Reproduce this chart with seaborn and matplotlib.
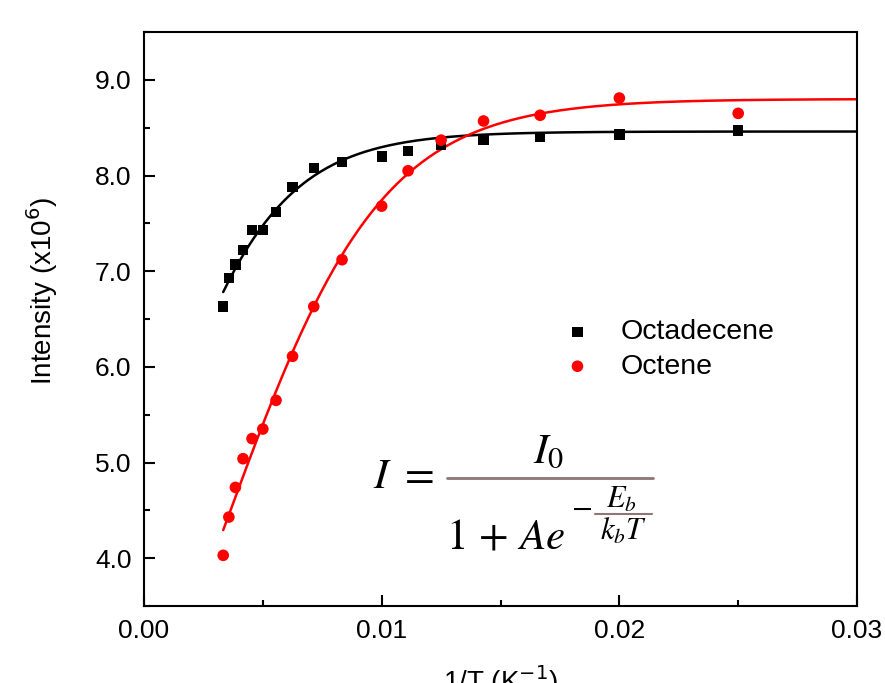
import numpy as np
import pandas as pd
import seaborn as sns
import matplotlib.pyplot as plt
from matplotlib.ticker import MultipleLocator, FixedLocator

# 1/T for T = 300 ... 40 K
inv_T = [1/300, 1/280, 1/260, 1/240, 1/220, 1/200, 1/180, 1/160, 1/140,
         1/120, 1/100, 1/90, 1/80, 1/70, 1/60, 1/50, 1/40]
octadecene = [6.63, 6.93, 7.07, 7.22, 7.43, 7.43, 7.62, 7.88, 8.08,
              8.14, 8.20, 8.26, 8.32, 8.37, 8.40, 8.43, 8.47]
octene = [4.03, 4.43, 4.74, 5.04, 5.25, 5.35, 5.65, 6.11, 6.63,
          7.12, 7.68, 8.05, 8.37, 8.57, 8.63, 8.81, 8.65]

# fit parameters, I = I0 / (1 + A exp(-c x)), x = 1/T
fit_octadecene = dict(I0=8.46, A=0.878, c=380.0)
fit_octene = dict(I0=8.80, A=2.91, c=306.0)
fit_range = (1/300, 0.03)

xticks = [0.00, 0.01, 0.02, 0.03]
xtick_labels = ['0.00', '0.01', '0.02', '0.03']
yticks = [4.0, 5.0, 6.0, 7.0, 8.0, 9.0]


def model(x, I0, A, c):
    return I0 / (1 + A * np.exp(-c * x))


sns.set_style('ticks')
plt.rcParams['font.family'] = ['Liberation Sans', 'DejaVu Sans']
plt.rcParams['text.color'] = 'black'
plt.rcParams['axes.labelcolor'] = 'black'
plt.rcParams['xtick.color'] = 'black'
plt.rcParams['ytick.color'] = 'black'

fig = plt.figure(figsize=(8.85, 6.83), dpi=100)
ax = fig.add_axes([0.1627, 0.1127, 0.8057, 0.8404])

xf = np.linspace(fit_range[0], fit_range[1], 300)
df_fit = pd.DataFrame({'x': np.concatenate([xf, xf]),
                       'y': np.concatenate([model(xf, **fit_octadecene), model(xf, **fit_octene)]),
                       'series': ['Octadecene'] * len(xf) + ['Octene'] * len(xf)})
sns.lineplot(data=df_fit, x='x', y='y', hue='series', palette={'Octadecene': 'black', 'Octene': '#ff0000'},
             linewidth=1.8, legend=False, ax=ax, sort=False)

sns.scatterplot(x=inv_T, y=octadecene, marker='s', color='black', s=55, edgecolor='none',
                label='Octadecene', ax=ax, zorder=3)
sns.scatterplot(x=inv_T, y=octene, marker='o', color='#ff0000', s=70, edgecolor='none',
                label='Octene', ax=ax, zorder=3)

ax.set_xlim(0, 0.03)
ax.set_ylim(3.5, 9.5)
ax.xaxis.set_major_locator(FixedLocator(xticks))
ax.set_xticklabels(xtick_labels)
ax.xaxis.set_minor_locator(MultipleLocator(0.005))
ax.yaxis.set_major_locator(FixedLocator(yticks))
ax.set_yticklabels([f'{v:.1f}' for v in yticks])
ax.yaxis.set_minor_locator(MultipleLocator(0.5))
ax.tick_params(which='both', direction='in', width=1.5, labelsize=19, top=False, right=False)
ax.tick_params(which='major', length=8, pad=9)
ax.tick_params(which='minor', length=4)
for sp in ax.spines.values():
    sp.set_linewidth(1.5)
    sp.set_color('black')

ax.set_xlabel('1/T (K$^{-1}$)', fontsize=20)
ax.xaxis.set_label_coords(0.5, -0.100)
ax.set_ylabel('Intensity (x10$^{6}$)', fontsize=20)
ax.yaxis.set_label_coords(-0.143, 0.549)
ax.yaxis.label.set_va('center')

ax.legend(loc='center left', bbox_to_anchor=(0.552, 0.447), frameon=False, fontsize=20.5,
          handletextpad=0.5, labelspacing=0.3, borderaxespad=0)

# equation
bar_col = '#8c7676'
mt = dict(math_fontfamily='stix', color='black', transform=ax.transAxes)
ax.text(0.321, 0.2056, r'$I\ =$', fontsize=31, ha='left', va='baseline', **mt)
ax.text(0.568, 0.249, r'$I_0$', fontsize=31, ha='center', va='baseline', **mt)
ax.plot([0.425, 0.714], [0.223, 0.223], color=bar_col, lw=2, transform=ax.transAxes, clip_on=False)
ax.text(0.424, 0.101, r'$1\,+\,Ae$', fontsize=31, ha='left', va='baseline', **mt)
ax.text(0.614, 0.170, r'$-$', fontsize=22, ha='center', va='center', **mt)
ax.text(0.669, 0.171, r'$E_b$', fontsize=22, ha='center', va='baseline', **mt)
ax.plot([0.632, 0.712], [0.160, 0.160], color=bar_col, lw=1.5, transform=ax.transAxes, clip_on=False)
ax.text(0.672, 0.115, r'$k_bT$', fontsize=22, ha='center', va='baseline', **mt)

fig.savefig('out.png', dpi=100)
